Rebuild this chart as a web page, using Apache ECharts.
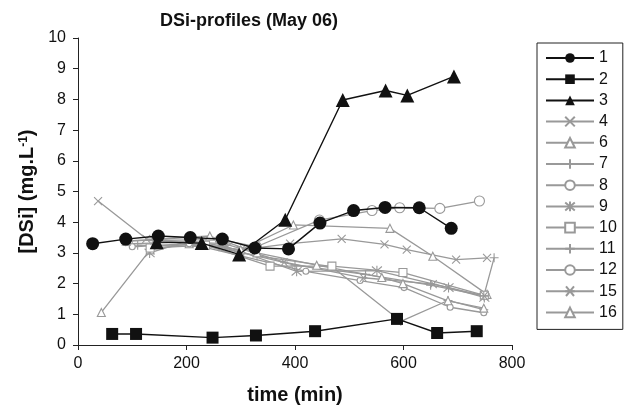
<!DOCTYPE html>
<html>
<head>
<meta charset="utf-8">
<script src="https://cdn.jsdelivr.net/npm/echarts@6/dist/echarts.min.js"></script>
<style>html,body{margin:0;padding:0;background:#fff}#c{width:627px;height:410px}</style>
</head>
<body>
<div id="c"></div>
<script>
// ---- data: [time (min), DSi (mg/L)] ----
var s1  = [[27,3.3],[88,3.45],[148,3.55],[207,3.5],[266,3.45],[326,3.16],[388,3.13],[446,3.97],[508,4.38],[566,4.48],[629,4.47],[688,3.8]];
var s2  = [[63,0.36],[107,0.36],[248,0.24],[328,0.31],[437,0.45],[588,0.85],[662,0.39],[735,0.45]];
var s3  = [[145,3.35],[228,3.32],[297,2.95],[382,4.08],[488,7.98],[567,8.29],[607,8.13],[693,8.75]];
var s4  = [[37,4.69],[126,3.46],[205,3.35],[300,3.1],[391,3.3],[486,3.46],[565,3.28],[606,3.11],[697,2.78],[754,2.84]];
var s6  = [[43,1.06],[133,3.1],[205,3.3],[300,3.1],[397,3.91],[575,3.8],[654,2.89],[754,1.65]];
var s7  = [[100,3.3],[205,3.35],[330,2.9],[468,2.55],[595,0.77],[682,1.45],[748,1.15]];
var s8  = [[88,3.4],[262,3.43],[329,3.2],[445,4.07],[542,4.38],[593,4.47],[667,4.45],[740,4.69]];
var s9  = [[132,3.0],[205,3.4],[275,3.2],[403,2.4],[551,2.42],[683,1.87],[749,1.55]];
var s10 = [[133,3.16],[235,3.25],[354,2.57],[468,2.57],[599,2.36],[749,1.62]];
var s11 = [[110,3.25],[260,3.2],[400,2.6],[530,2.3],[650,1.95],[748,1.6],[767,2.84]];
var s12 = [[100,3.2],[205,3.3],[300,2.9],[420,2.4],[520,2.1],[601,1.87],[686,1.23],[748,1.05]];
var s15 = [[140,3.4],[270,3.3],[380,2.7],[526,2.19],[655,1.98],[749,1.6]];
var s16 = [[89,3.38],[243,3.55],[330,3.0],[440,2.6],[560,2.2],[599,2.0],[682,1.44],[748,1.2]];
var legendNames = ['1','2','3','4','6','7','8','9','10','11','12','15','16'];
var xTicks = {min:0, max:800, interval:200};
var yTicks = {min:0, max:10, interval:1};

var FONT = '"Liberation Sans", Arial, sans-serif';
var GRAY = '#999999';
var P_X = 'path://M0,0L10,10M10,0L0,10';
var P_PLUS = 'path://M5,0L5,10M0,5L10,5';
var P_AST = 'path://M0,0L10,10M10,0L0,10M5,-1L5,11';
var P_AST2 = 'path://M0,0L10,10M10,0L0,10M-1,5L11,5';

function gray(name, data, symbol, size, filled) {
  return {
    name: name, type: 'line', data: data, symbol: symbol, symbolSize: size,
    showAllSymbol: true, z: 2,
    lineStyle: {color: GRAY, width: 1.3},
    itemStyle: {color: filled ? GRAY : '#fff', borderColor: GRAY, borderWidth: 1.1},
    emphasis: {disabled: true}
  };
}
function black(name, data, symbol, size) {
  return {
    name: name, type: 'line', data: data, symbol: symbol, symbolSize: size,
    showAllSymbol: true, z: 5,
    lineStyle: {color: '#111', width: 1.4},
    itemStyle: {color: '#111', borderColor: '#111', borderWidth: 0},
    emphasis: {disabled: true}
  };
}

var series = [
  gray('4', s4, P_X, 8),
  gray('6', s6, 'triangle', 8),
  gray('7', s7, P_PLUS, 9),
  gray('8', s8, 'circle', 10),
  gray('9', s9, P_AST, 10),
  gray('10', s10, 'rect', 8),
  gray('11', s11, P_PLUS, 9),
  gray('12', s12, 'circle', 6),
  gray('15', s15, P_AST2, 8),
  gray('16', s16, 'triangle', 8),
  black('1', s1, 'circle', 13),
  black('2', s2, 'rect', 12),
  black('3', s3, 'triangle', 14)
];

var chart = echarts.init(document.getElementById('c'), null, {renderer: 'canvas'});
chart.setOption({
  animation: false,
  backgroundColor: '#fff',
  title: {
    text: 'DSi-profiles (May 06)', left: 155, top: 7,
    textStyle: {fontFamily: FONT, fontSize: 18, fontWeight: 'bold', color: '#111'}
  },
  grid: {left: 78, right: 115, top: 38, bottom: 62, containLabel: false},
  legend: {
    data: legendNames, orient: 'vertical', left: 537, top: 43,
    padding: [7, 6, 9, 8], itemGap: 5.2, itemWidth: 48, itemHeight: 12,
    borderColor: '#222', borderWidth: 1,
    textStyle: {fontFamily: FONT, fontSize: 16, color: '#111', lineHeight: 16},
    selectedMode: false
  },
  xAxis: {
    type: 'value', min: xTicks.min, max: xTicks.max, interval: xTicks.interval,
    name: 'time (min)', nameLocation: 'middle', nameGap: 40,
    nameTextStyle: {fontFamily: FONT, fontSize: 20, fontWeight: 'bold', color: '#111'},
    axisLine: {show: true, onZero: false, lineStyle: {color: '#222', width: 1}},
    axisTick: {show: true, inside: false, length: 5, lineStyle: {color: '#222'}},
    axisLabel: {fontFamily: FONT, fontSize: 16, color: '#111', margin: 11},
    splitLine: {show: false}
  },
  yAxis: {
    type: 'value', min: yTicks.min, max: yTicks.max, interval: yTicks.interval,
    name: '[DSi] (mg.L{sup|-1})', nameLocation: 'middle', nameGap: 40, nameRotate: 90,
    nameTextStyle: {fontFamily: FONT, fontSize: 20, fontWeight: 'bold', color: '#111',
      rich: {sup: {fontFamily: FONT, fontSize: 12, fontWeight: 'bold', color: '#111', verticalAlign: 'top', lineHeight: 12, padding: [0,0,7,0]}}},
    axisLine: {show: true, onZero: false, lineStyle: {color: '#222', width: 1}},
    axisTick: {show: true, inside: false, length: 5, lineStyle: {color: '#222'}},
    axisLabel: {fontFamily: FONT, fontSize: 16, color: '#111', margin: 12},
    splitLine: {show: false}
  },
  series: series
});
</script>
</body>
</html>
